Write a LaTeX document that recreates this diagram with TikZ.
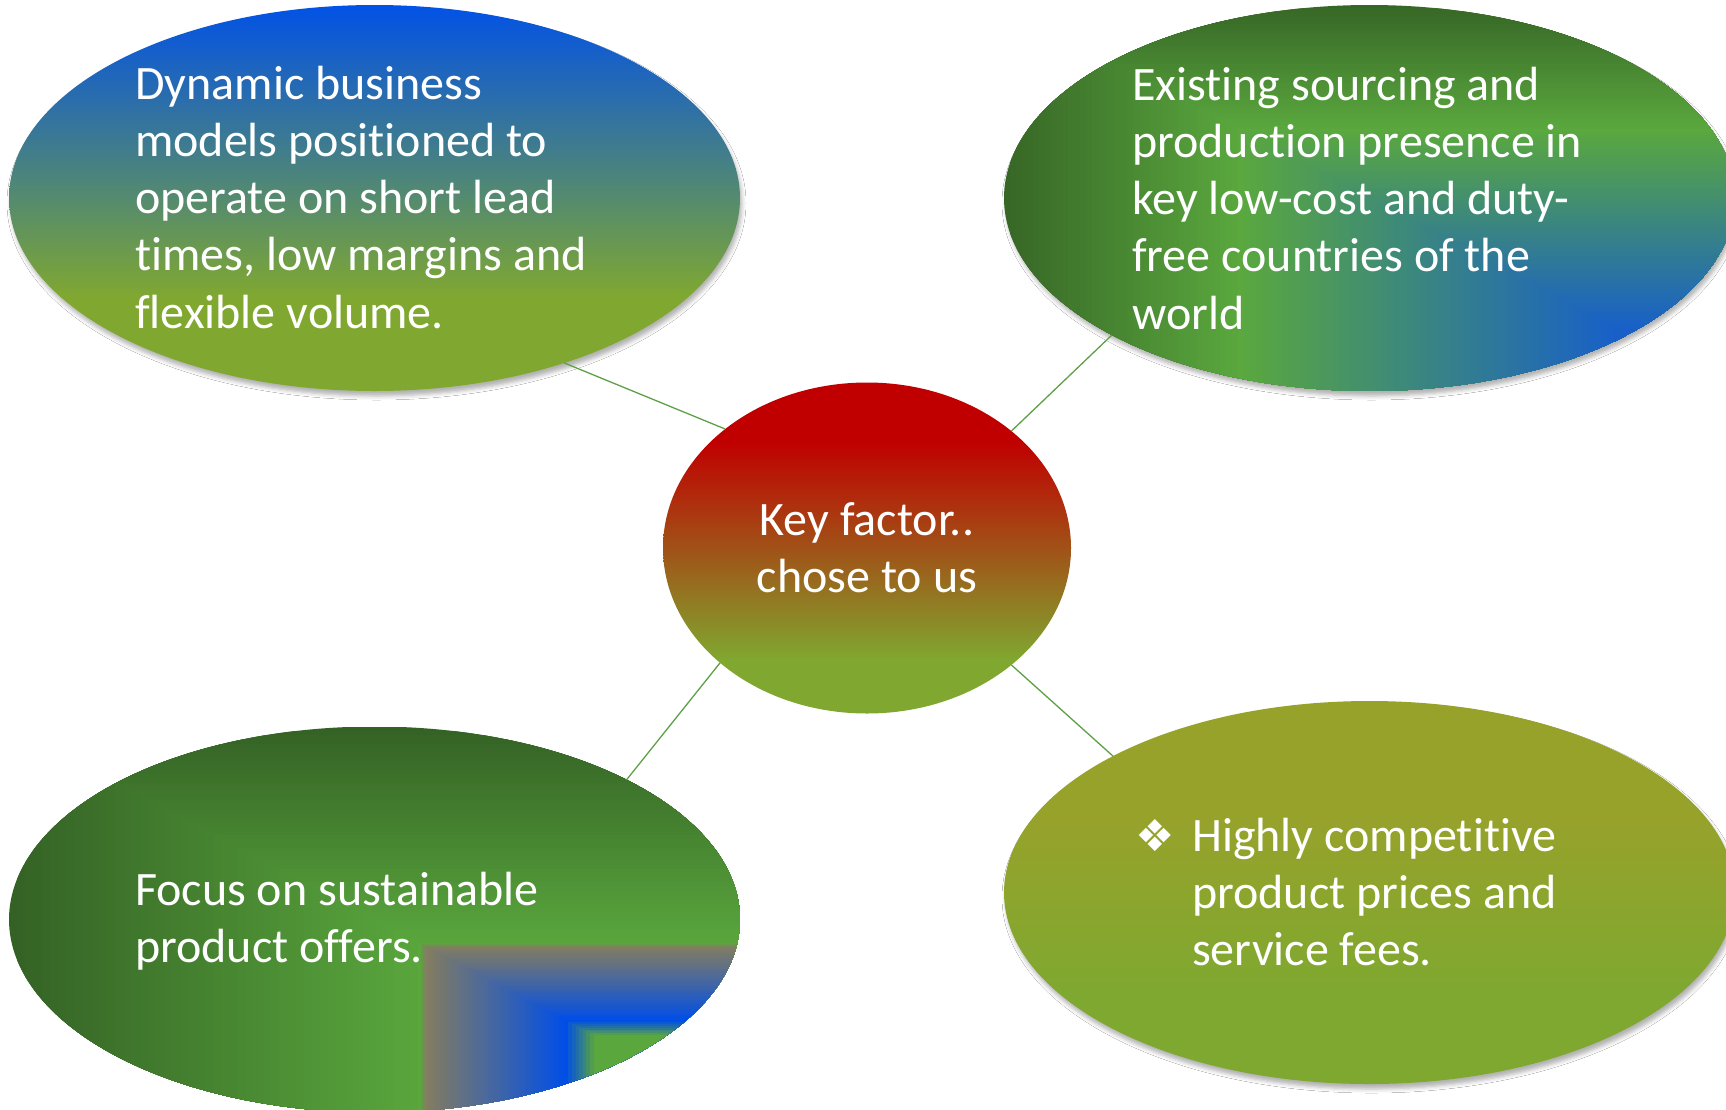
\documentclass[tikz,border=0pt]{standalone}
\usepackage{fontspec}
\setmainfont{Carlito}[RawFeature={-liga;-clig;-calt;-dlig}]
\newfontfamily\symfont{DejaVu Sans}
\usetikzlibrary{shapes.geometric,shadows.blur,calc}

% palette
\definecolor{tlblue}{RGB}{2,82,230}
\definecolor{tlgreen}{RGB}{128,168,48}
\definecolor{cred}{RGB}{192,0,0}
\definecolor{cgreen}{RGB}{128,168,48}
\definecolor{brolive}{RGB}{151,162,43}
\definecolor{brgreen}{RGB}{127,168,48}
\definecolor{trdark}{RGB}{55,103,38}
\definecolor{trbright}{RGB}{90,168,62}
\definecolor{trblue}{RGB}{24,96,200}
\definecolor{bldark}{RGB}{52,98,37}
\definecolor{blbright}{RGB}{90,167,61}
\definecolor{blgray}{RGB}{130,124,98}
\definecolor{blblue}{RGB}{0,78,232}
\definecolor{linkgreen}{RGB}{95,160,70}

% vertical fills (path spans 25bp..75bp)
\pgfdeclareverticalshading{dynshade}{100bp}{color(0bp)=(tlgreen); color(37bp)=(tlgreen); color(75bp)=(tlblue); color(100bp)=(tlblue)}
\pgfdeclareverticalshading{keyshade}{100bp}{color(0bp)=(cgreen); color(33bp)=(cgreen); color(66bp)=(cred); color(100bp)=(cred)}
\pgfdeclareverticalshading{priceshade}{100bp}{color(0bp)=(brgreen); color(37bp)=(brgreen); color(60bp)=(brolive); color(100bp)=(brolive)}

% rectangular bands growing from the lower right corner of a node:
% t runs from #1 down to #2 in #5 steps, colour goes from #3 to #4
\newcommand\cornerramp[5]{%
  \foreach \k in {0,...,#5}{%
    \pgfmathsetmacro\rampt{#1-(#1-#2)*\k/#5}%
    \pgfmathsetmacro\rampp{100*\k/#5}%
    \fill[#4!\rampp!#3] (path picture bounding box.south east) rectangle
      ($(path picture bounding box.south east)!\rampt!(path picture bounding box.north west)$);
  }}

\tikzset{
  bubble/.style={ellipse, draw=none, inner sep=0pt, outer sep=0pt,
    minimum width=731pt, minimum height=386pt},
  softshadow/.style={blur shadow={shadow xshift=2pt, shadow yshift=-5pt,
    shadow blur radius=4pt, shadow opacity=30}},
  label/.style={text=white, align=left, inner sep=0pt,
    font=\fontsize{48}{57.3}\selectfont},
  link/.style={draw=linkgreen, line width=1.3pt}
}

\begin{document}
\begin{tikzpicture}[x=1pt,y=-1pt]
\useasboundingbox (0,0) rectangle (1726,1109);
\clip (0,0) rectangle (1726,1109);
\fill[white] (0,0) rectangle (1726,1109);

% outer bubbles
\node[bubble, softshadow, shading=dynshade] (dyn) at (374.5,198) {};
\node[bubble, softshadow, path picture={
    \cornerramp{1}{0.68}{trdark}{trbright}{40}
    \cornerramp{0.68}{0.167}{trbright}{trblue}{60}
    \cornerramp{0.167}{0}{trblue}{trblue}{1}
  }] (src) at (1369.5,198) {};
\node[bubble, path picture={
    \cornerramp{1}{0.44}{bldark}{blbright}{50}
    \cornerramp{0.44}{0.43}{blbright}{blgray}{3}
    \cornerramp{0.43}{0.24}{blgray}{blblue}{40}
    \cornerramp{0.24}{0.20}{blblue}{blbright}{8}
    \cornerramp{0.20}{0}{blbright}{blbright}{1}
  }] (eco) at (374.5,919.5) {};
\node[bubble, softshadow, minimum height=383pt, shading=priceshade] (price) at (1369.5,892.5) {};

% centre bubble
\node[ellipse, draw=none, inner sep=0pt, outer sep=0pt,
  minimum width=408pt, minimum height=331pt, shading=keyshade] (key) at (867,548) {};

% connectors
\draw[link] (key.140.8) -- (dyn.-41.7);
\draw[link] (key.39.4) -- (src.208.1);
\draw[link] (key.218.9) -- (eco.29.4);
\draw[link] (key.321.1) -- (price.152.2);

% texts (anchored at the baseline of their last line)
\node[label, anchor=base west] (dyntext) at (135,328.2)
  {Dynamic business\\models positioned to\\operate on short lead\\times, low margins and\\flexible volume.};
\node[label, anchor=base west] (srctext) at (1132,329.2)
  {Existing sourcing and\\production presence in\\key low-cost and duty-\\free countries of the\\world};
\node[label, anchor=base west] (ecotext) at (135,962.3)
  {Focus on sustainable\\product offers.};
\node[label, anchor=base west] (pricetext) at (1192,965.6)
  {Highly competitive\\product prices and\\service fees.};
\node[text=white, inner sep=0pt, anchor=base west,
  font=\symfont\fontsize{44}{52}\selectfont] (bullet) at (1135,851) {❖};
\node[label, align=center, anchor=base] (keytext) at (867,592.5)
  {Key factor..\\chose to us};
\end{tikzpicture}
\end{document}
